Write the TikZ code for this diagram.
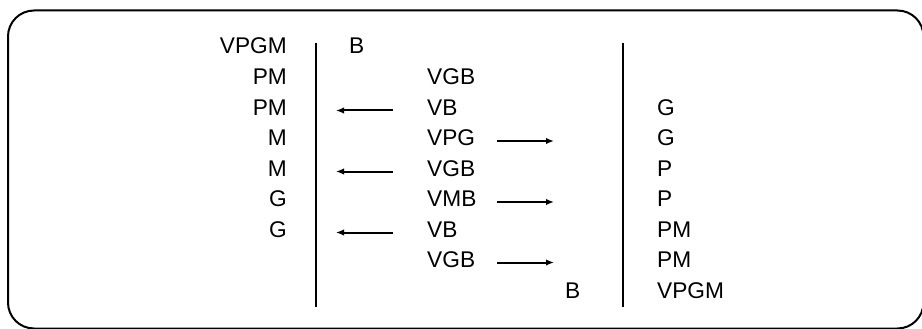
\documentclass[tikz,border=0pt]{standalone}
\usepackage{fontspec}
\setmainfont{Liberation Sans}
\usetikzlibrary{arrows.meta}
\begin{document}
\begin{tikzpicture}[x=1pt,y=-1pt,
  lbl/.style={inner sep=0pt,font=\fontsize{22.7}{27}\selectfont},
  lcol/.style={lbl,anchor=base east},
  rcol/.style={lbl,anchor=base west},
  divider/.style={line width=2.2pt},
  move/.style={line width=2pt,-{Latex[length=8pt,width=6.5pt]}}]
\useasboundingbox (0,0) rectangle (922,329);
% outer frame (runs slightly past the right and bottom edges)
\draw[line width=2pt,rounded corners=26pt] (8,10.5) rectangle (923.5,328.5);
% the two dividing lines
\coordinate (d1t) at (316,43); \coordinate (d1b) at (316,307);
\coordinate (d2t) at (623,43); \coordinate (d2b) at (623,307);
\draw[divider] (d1t) -- (d1b);
\draw[divider] (d2t) -- (d2b);
% left column
\node[lcol] (l1) at (287,54)    {VPGM};
\node[lcol] (l2) at (287,84.5)  {PM};
\node[lcol] (l3) at (287,115)   {PM};
\node[lcol] (l4) at (287,145.5) {M};
\node[lcol] (l5) at (287,176)   {M};
\node[lcol] (l6) at (287,206.5) {G};
\node[lcol] (l7) at (287,237)   {G};
% boat side
\node[rcol] (b0) at (349,54)    {B};
\node[rcol] (m2) at (427,84.5)  {VGB};
\node[rcol] (m3) at (427,115)   {VB};
\node[rcol] (m4) at (427,145.5) {VPG};
\node[rcol] (m5) at (427,176)   {VGB};
\node[rcol] (m6) at (427,206.5) {VMB};
\node[rcol] (m7) at (427,237)   {VB};
\node[rcol] (m8) at (427,267.5) {VGB};
\node[rcol] (b9) at (565,298)   {B};
% right column
\node[rcol] (r3) at (657,115)   {G};
\node[rcol] (r4) at (657,145.5) {G};
\node[rcol] (r5) at (657,176)   {P};
\node[rcol] (r6) at (657,206.5) {P};
\node[rcol] (r7) at (657,237)   {PM};
\node[rcol] (r8) at (657,267.5) {PM};
\node[rcol] (r9) at (657,298)   {VPGM};
% crossings back to the left bank
\foreach \i/\y in {3/110.5,5/171.5,7/232.5}{
  \coordinate (ls\i) at (393,\y);
  \coordinate (le\i) at (336,\y);
  \draw[move] (ls\i) -- (le\i);
}
% crossings to the right bank
\foreach \i/\y in {4/141,6/202,8/262.5}{
  \coordinate (rs\i) at (497,\y);
  \coordinate (re\i) at (554,\y);
  \draw[move] (rs\i) -- (re\i);
}
\end{tikzpicture}
\end{document}
